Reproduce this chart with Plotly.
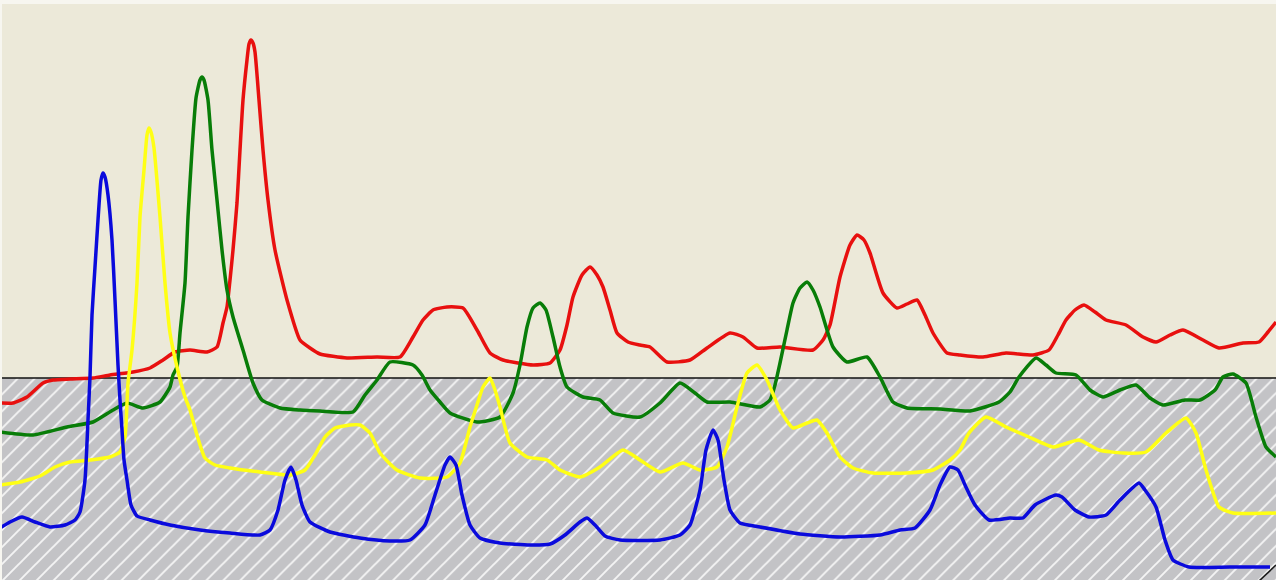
import plotly.graph_objects as go

# Sample positions and trace intensities for the four offset traces
red_x = [0, 13, 27, 43, 53, 70, 93, 110, 133, 150, 163, 175, 190, 207, 217, 223, 227, 230, 233, 237,
         240, 243, 247, 249, 251, 253, 255, 259, 263, 268, 275, 287, 300, 310, 320, 347, 377, 400, 413,
         423, 433, 447, 463, 477, 490, 503, 533, 550, 560, 567, 573, 582, 590, 597, 603, 610, 617, 628,
         640, 650, 667, 690, 707, 730, 743, 757, 780, 813, 823, 830, 840, 850, 857, 864, 870, 883, 897,
         907, 917, 925, 933, 947, 960, 983, 1006, 1033, 1049, 1058, 1066, 1075, 1084, 1095, 1106, 1126,
         1143, 1156, 1170, 1183, 1203, 1219, 1243, 1259, 1268, 1276]
red_y = [177, 177, 183, 197, 200, 201, 202, 205, 208, 212, 220, 228, 230, 228, 233, 257, 273, 300, 330, 377,
         430, 480, 520, 536, 540, 537, 528, 480, 430, 380, 330, 280, 240, 232, 226, 222, 223, 223, 243,
         260, 270, 273, 272, 250, 227, 220, 215, 217, 230, 255, 283, 305, 313, 305, 293, 270, 247, 238,
         235, 233, 218, 220, 232, 247, 243, 232, 233, 230, 240, 255, 303, 335, 345, 340, 327, 287, 272,
         276, 280, 265, 247, 227, 225, 223, 227, 225, 230, 245, 260, 270, 275, 268, 260, 255,
         243, 238, 245, 250, 240, 232, 237, 238, 248, 258]

green_x = [0, 33, 67, 93, 113, 127, 143, 160, 170, 173, 177, 180, 185, 188, 192, 196, 200, 202, 204, 208,
           212, 217, 222, 227, 233, 243, 253, 262, 280, 300, 320, 353, 365, 377, 390, 413, 422, 430, 440,
           450, 477, 500, 513, 520, 527, 533, 540, 546, 553, 560, 567, 583, 600, 613, 640, 660, 680, 695,
           707, 730, 760, 770, 775, 780, 787, 793, 800, 807, 813, 820, 833, 847, 867, 880, 893, 907, 940,
           970, 999, 1010, 1019, 1036, 1046, 1056, 1076, 1090, 1103, 1120, 1136, 1150, 1163, 1185, 1200,
           1215, 1223, 1233, 1246, 1256, 1266, 1276]
green_y = [148, 145, 153, 158, 170, 177, 172, 178, 193, 205, 213, 247, 297, 363, 430, 482, 500, 503, 500, 480,
           430, 380, 330, 290, 263, 230, 197, 180, 172, 170, 169, 168, 185, 200, 218, 215, 205, 190, 178,
           167, 158, 163, 187, 215, 253, 272, 277, 270, 243, 213, 193, 183, 180, 167, 163, 177, 197, 187,
           178, 178, 173, 180, 195, 217, 250, 277, 292, 298, 290, 273, 233, 218, 223, 203, 178, 172, 171,
           169, 178, 188, 203, 222, 215, 207, 205, 190, 183, 190, 195, 182, 175, 180, 180,
           190, 203, 206, 197, 163, 133, 123]

yellow_x = [0, 20, 40, 55, 70, 90, 110, 120, 125, 128, 132, 137, 140, 144, 147, 149, 151, 154, 160, 165,
            170, 177, 185, 190, 197, 205, 215, 230, 260, 290, 305, 315, 325, 335, 350, 360, 370, 380, 397,
            420, 447, 460, 470, 477, 483, 490, 495, 500, 510, 527, 547, 560, 580, 600, 623, 640, 660, 683,
            700, 717, 727, 737, 747, 757, 767, 780, 793, 807, 817, 827, 840, 853, 873, 907, 933, 950, 960,
            969, 986, 1006, 1029, 1053, 1079, 1099, 1123, 1146, 1166, 1186, 1196, 1206, 1219, 1233, 1276]
yellow_y = [95, 98, 104, 113, 118, 120, 123, 128, 143, 197, 230, 297, 363, 410, 445, 452, 448, 432, 363, 297,
            247, 213, 183, 170, 145, 122, 115, 112, 108, 105, 110, 125, 143, 152, 155, 155, 147, 127, 110,
            102, 103, 117, 153, 175, 193, 202, 190, 173, 137, 123, 120, 110, 103, 113, 130, 120, 108, 117,
            110, 113, 133, 173, 207, 215, 200, 170, 152, 157, 160, 147, 123, 112, 107, 107, 110, 120, 130,
            147, 163, 153, 143, 133, 140, 130, 127, 128, 147, 162, 147, 110, 73, 67, 67]

blue_x = [0, 10, 22, 35, 50, 65, 75, 80, 85, 88, 90, 92, 95, 98, 101, 103, 105, 108, 112, 115, 118, 120,
          122, 124, 127, 131, 137, 150, 170, 200, 230, 260, 270, 278, 285, 291, 296, 302, 310, 330, 360,
          390, 410, 425, 435, 445, 450, 456, 462, 470, 480, 500, 530, 550, 565, 580, 587, 595, 605, 620,
          660, 680, 690, 700, 706, 713, 718, 724, 730, 740, 760, 800, 840, 880, 900, 915, 930, 940, 950,
          958, 965, 975, 989, 1010, 1023, 1035, 1056, 1062, 1075, 1089, 1106, 1120, 1139, 1145, 1156,
          1165, 1173, 1189, 1230, 1270]
blue_y = [52, 58, 63, 58, 53, 55, 60, 68, 100, 160, 203, 265, 313, 360, 400, 407, 403, 385, 340, 280, 215, 180,
          150, 120, 100, 75, 64, 60, 55, 50, 47, 45, 50, 70, 100, 113, 100, 75, 58, 48, 42,
          39, 40, 55, 85, 115, 123, 115, 85, 55, 42, 37, 35, 36, 45, 58, 62, 55, 44, 40,
          40, 45, 55, 90, 130, 150, 140, 100, 70, 57, 53, 46, 43, 45, 50, 52, 70, 95, 113,
          110, 95, 75, 60, 62, 62, 75, 85, 83, 70, 63, 65, 80, 97, 90, 73,
          40, 20, 13, 13, 13]

black_x = [1258, 1276]
black_y = [-2, 15]

baseline = 202
x_min, x_max = 2, 1276
y_min, y_max = 0, 576

fig = go.Figure()

# Hatched band below the baseline
fig.add_trace(go.Scatter(
    x=[-10, 1290, 1290, -10, -10],
    y=[-10, -10, baseline, baseline, -10],
    mode="lines", fill="toself",
    line=dict(width=0, color="rgba(0,0,0,0)"),
    fillcolor="#C3C3C6",
    fillpattern=dict(shape="/", bgcolor="#C3C3C6", fgcolor="#F4F4F4",
                     size=12, solidity=0.16, fillmode="replace"),
    hoverinfo="skip", showlegend=False,
))

# Baseline
fig.add_trace(go.Scatter(
    x=[-10, 1290], y=[baseline, baseline], mode="lines",
    line=dict(color="#111111", width=1.6), hoverinfo="skip", showlegend=False,
))

series = [
    (black_x, black_y, "#1A1A1A", 1.6),
    (red_x, red_y, "#E8100F", 3.5),
    (green_x, green_y, "#087D08", 3.5),
    (yellow_x, yellow_y, "#FFFF14", 3.5),
    (blue_x, blue_y, "#0A0ADC", 3.5),
]
for xs, ys, col, w in series:
    fig.add_trace(go.Scatter(
        x=xs, y=ys, mode="lines",
        line=dict(color=col, width=w, shape="spline", smoothing=0.5),
        showlegend=False,
    ))

fig.update_layout(
    width=1276, height=580,
    margin=dict(l=2, r=0, t=4, b=0),
    paper_bgcolor="#F7F6F0",
    plot_bgcolor="#ECE9D9",
    xaxis=dict(range=[x_min, x_max], visible=False, showgrid=False, zeroline=False, fixedrange=True),
    yaxis=dict(range=[y_min, y_max], visible=False, showgrid=False, zeroline=False, fixedrange=True),
)

fig.write_html("out.html", config={"displayModeBar": False})
